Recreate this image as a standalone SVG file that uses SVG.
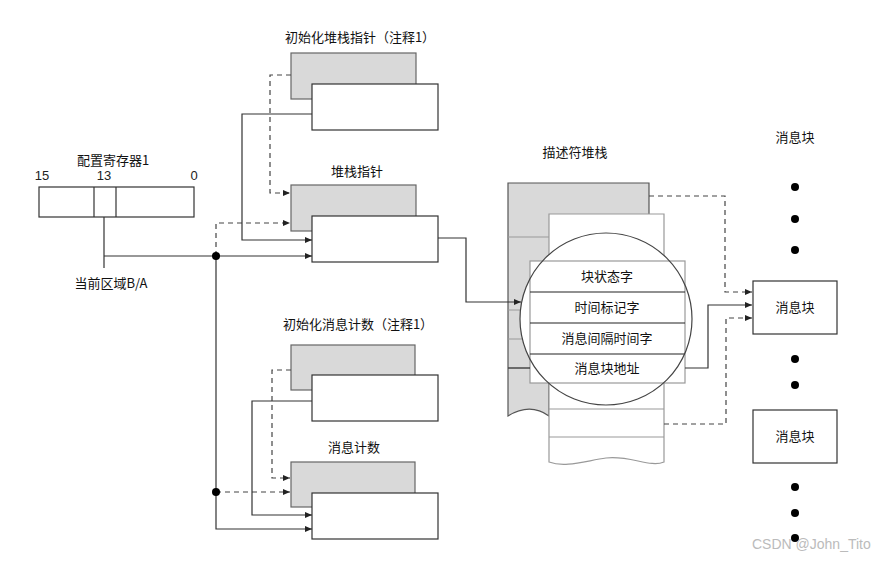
<svg xmlns="http://www.w3.org/2000/svg" width="887" height="564" viewBox="0 0 887 564">
<style>
text{font-family:"Noto Sans CJK SC","Liberation Sans",sans-serif;font-size:13px;fill:#111;text-anchor:middle}
.num{font-family:"Liberation Sans",Arial,sans-serif;font-size:13px;fill:#222}
.gbox{fill:#d9d9d9;stroke:#666;stroke-width:1.2}
.wbox{fill:#fff;stroke:#333;stroke-width:1.2}
.ln{fill:none;stroke:#333;stroke-width:1.2}
.dash{fill:none;stroke:#444;stroke-width:1.2;stroke-dasharray:5,4}
.arr{marker-end:url(#ah)}
.lt{fill:none;stroke:#999;stroke-width:1.2}
.dk{fill:none;stroke:#222;stroke-width:1.2}
.dot{fill:#000}
.wm{font-family:"Liberation Sans",Arial,sans-serif;font-size:14px;fill:#bbb;text-anchor:start}
</style>
<defs>
<marker id="ah" markerUnits="userSpaceOnUse" markerWidth="7" markerHeight="6" refX="7" refY="3" orient="auto">
<path d="M0,0 L7,3 L0,6 Z" fill="#222"/>
</marker>
</defs>
<rect width="887" height="564" fill="#fff"/>

<g id="config-register">
<text x="113" y="165">配置寄存器1</text>
<text class="num" x="42" y="180">15</text>
<text class="num" x="104" y="180">13</text>
<text class="num" x="194" y="180">0</text>
<rect x="39" y="187" width="155" height="30" class="wbox"/>
<line x1="94" y1="187" x2="94" y2="217" class="ln"/>
<line x1="116" y1="187" x2="116" y2="217" class="ln"/>
<text x="111" y="288">当前区域B/A</text>
</g>

<g id="init-stack-pointer">
<text x="360" y="42">初始化堆栈指针（注释1）</text>
<rect x="291" y="53" width="125" height="46" class="gbox"/>
<rect x="312" y="84" width="126" height="46" class="wbox"/>
</g>

<g id="stack-pointer">
<text x="357" y="176">堆栈指针</text>
<rect x="291" y="185" width="125" height="46" class="gbox"/>
<rect x="312" y="216" width="126" height="46" class="wbox"/>
</g>

<g id="init-message-count">
<text x="358" y="329">初始化消息计数（注释1）</text>
<rect x="291" y="345" width="124" height="45" class="gbox"/>
<rect x="312" y="375" width="126" height="46" class="wbox"/>
</g>

<g id="message-count">
<text x="354" y="452">消息计数</text>
<rect x="291" y="462" width="124" height="45" class="gbox"/>
<rect x="312" y="493" width="126" height="46" class="wbox"/>
</g>

<g id="descriptor-stack">
<text x="575" y="157">描述符堆栈</text>
<path d="M508,183 H649 V300 H549 V416 C535,406 521,408 508,416 Z" fill="#d9d9d9" stroke="#555" stroke-width="1.2"/>
<path d="M549,214 H664 V462 C650,468 630,455 606,458 C585,461 565,468 549,462 Z" fill="#fff" stroke="#999" stroke-width="1.2"/>
<line x1="508" y1="237" x2="549" y2="237" class="lt"/>
<line x1="508" y1="310" x2="549" y2="310" class="lt"/>
<line x1="508" y1="339" x2="549" y2="339" class="lt"/>
<line x1="549" y1="409" x2="664" y2="409" class="lt"/>
<line x1="549" y1="437" x2="664" y2="437" class="lt"/>
<circle cx="606" cy="319" r="86" fill="#fff"/>
<rect x="530" y="261" width="155" height="122" fill="#fff" stroke="#999" stroke-width="1.2"/>
<line x1="530" y1="292" x2="685" y2="292" class="dk"/>
<line x1="530" y1="323" x2="685" y2="323" class="dk"/>
<line x1="530" y1="354" x2="685" y2="354" class="dk"/>
<line x1="508" y1="368" x2="530" y2="368" class="dk"/>
<circle cx="606" cy="319" r="86" fill="none" stroke="#444" stroke-width="1.2"/>
<text x="607" y="281">块状态字</text>
<text x="607" y="312">时间标记字</text>
<text x="607" y="343">消息间隔时间字</text>
<text x="607" y="373">消息块地址</text>
</g>

<g id="message-blocks">
<text x="795" y="142">消息块</text>
<circle cx="795" cy="187" r="4" class="dot"/>
<circle cx="795" cy="219" r="4" class="dot"/>
<circle cx="795" cy="250" r="4" class="dot"/>
<g id="message-block-1">
<rect x="753" y="281" width="84" height="53" class="wbox"/>
<text x="795" y="312">消息块</text>
</g>
<circle cx="795" cy="359" r="4" class="dot"/>
<circle cx="795" cy="385" r="4" class="dot"/>
<g id="message-block-2">
<rect x="753" y="410" width="84" height="53" class="wbox"/>
<text x="795" y="441">消息块</text>
</g>
<circle cx="795" cy="487" r="4" class="dot"/>
<circle cx="795" cy="513" r="4" class="dot"/>
<circle cx="795" cy="538" r="4" class="dot"/>
</g>

<g id="connectors">
<path d="M104,217 V268" class="ln"/>
<path d="M104,256 H312" class="ln arr"/>
<path d="M216,256 V529 H312" class="ln arr"/>
<path d="M216,256 V223 H290" class="dash arr"/>
<path d="M216,492 H290" class="dash arr"/>
<path d="M291,75 H270 V193 H290" class="dash arr"/>
<path d="M312,114 H242 V240 H312" class="ln arr"/>
<path d="M438,238 H466 V302 H521" class="ln arr"/>
<path d="M291,370 H272 V478 H290" class="dash arr"/>
<path d="M312,401 H252 V515 H312" class="ln arr"/>
<path d="M649,196 H725 V292 H752" class="dash arr"/>
<path d="M685,368 H708 V305 H752" class="ln arr"/>
<path d="M664,424 H726 V318 H752" class="dash arr"/>
<circle cx="216" cy="256" r="4" class="dot"/>
<circle cx="216" cy="492" r="4" class="dot"/>
</g>

<text class="wm" x="752" y="549">CSDN @John_Tito</text>
</svg>
